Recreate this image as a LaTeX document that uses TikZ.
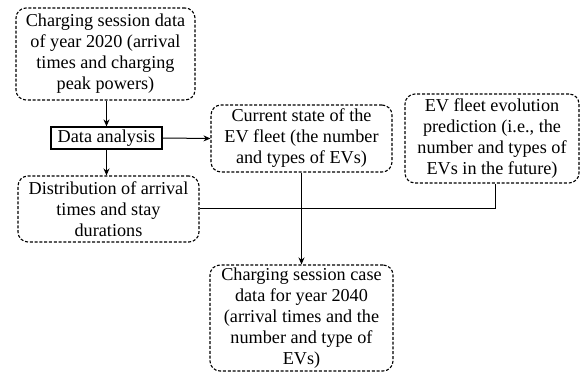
\documentclass[tikz,border=0pt]{standalone}
\usepackage{fontspec}
\setmainfont{Liberation Serif}
\usetikzlibrary{arrows.meta}
\begin{document}
\begin{tikzpicture}[x=1pt,y=-1pt,
  dbox/.style={draw, dash pattern=on 3pt off 1.8pt, line width=1.1pt, rounded corners=10pt,
    align=center, inner sep=0pt, font=\fontsize{18.2pt}{21pt}\selectfont},
  sbox/.style={draw, line width=1.2pt, align=center, inner sep=0pt,
    font=\fontsize{18.2pt}{21pt}\selectfont},
  conn/.style={line width=1pt},
  arr/.style={conn, -{Stealth[length=7pt,width=6pt]}}]
\useasboundingbox (0,0) rectangle (581,374);
\node[dbox, minimum width=179pt, minimum height=92pt] (b1) at (105.5,54)
  {Charging session data\\of year 2020 (arrival\\times and charging\\peak powers)};
\node[sbox, minimum width=111pt, minimum height=22pt] (da) at (106.5,138) {Data analysis};
\node[dbox, minimum width=181pt, minimum height=67pt] (cur) at (301.5,138.5)
  {Current state of the\\EV fleet (the number\\and types of EVs)};
\node[dbox, minimum width=174pt, minimum height=89pt] (evo) at (492,138.5)
  {EV fleet evolution\\prediction (i.e., the\\number and types of\\EVs in the future)};
\node[dbox, minimum width=181pt, minimum height=66pt] (dist) at (108.5,209)
  {Distribution of arrival\\times and stay\\durations};
\node[dbox, minimum width=183pt, minimum height=106pt] (fin) at (301.5,318)
  {Charging session case\\data for year 2040\\(arrival times and the\\number and type of\\EVs)};
\coordinate (evb) at ([xshift=3pt]evo.south);
\draw[arr] (b1.south -| da.north) -- (da.north);
\draw[arr] (da.south) -- (da.south |- dist.north);
\draw[arr] (da.east) -- (cur.west);
\draw[arr] (cur.south) -- (fin.north);
\draw[conn] (dist.east) -| (evb);
\end{tikzpicture}
\end{document}
